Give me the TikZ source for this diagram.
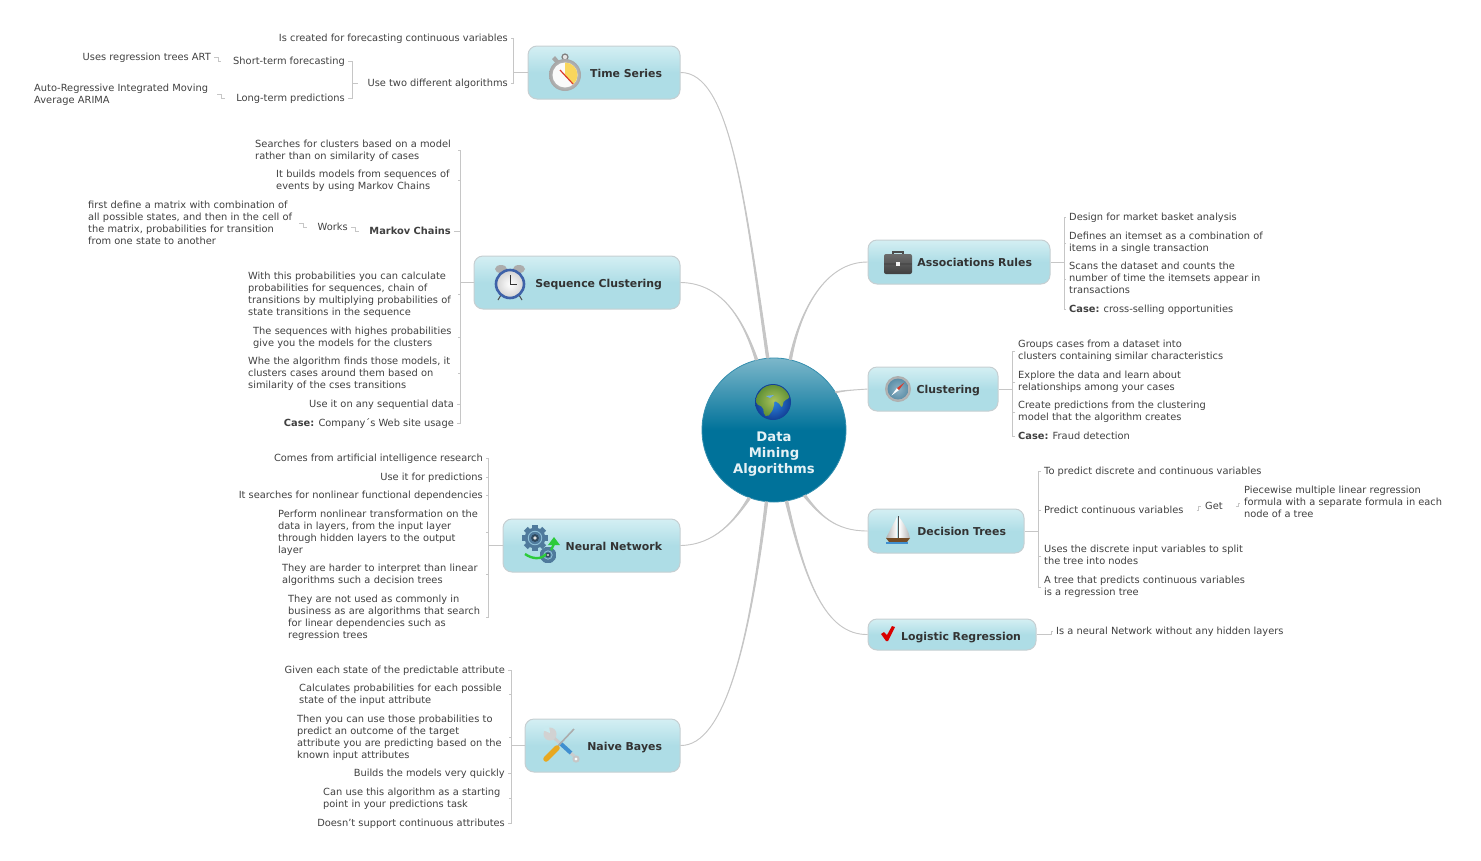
\documentclass[tikz,border=0pt]{standalone}
\usepackage{fontspec}
\setmainfont{DejaVu Sans}
\definecolor{topict}{HTML}{D4EFF3}
\definecolor{topicb}{HTML}{AEDDE6}
\definecolor{boxedge}{HTML}{C6CFD2}
\definecolor{hubt}{HTML}{7CB7CA}
\definecolor{hubd}{HTML}{00729A}
\definecolor{linegray}{HTML}{C6C6C6}
\definecolor{leaftext}{HTML}{404040}
\definecolor{topictext}{HTML}{333333}
\definecolor{gearblue}{HTML}{4F7A9C}
\definecolor{gearlight}{HTML}{8FC0D8}
\definecolor{arrowgreen}{HTML}{2CCB3A}
\definecolor{steelface}{HTML}{5D8FA8}
\definecolor{steellight}{HTML}{8FB4C6}
\definecolor{clockblue}{HTML}{3E62A8}
\definecolor{wedge}{HTML}{F9D65C}
\definecolor{handred}{HTML}{D93A2B}
\definecolor{gripblue}{HTML}{3F8FD0}
\definecolor{handleamber}{HTML}{E8A820}
\definecolor{landlight}{HTML}{A9C25A}
\definecolor{landdark}{HTML}{5E8F35}
\definecolor{oceanlight}{HTML}{2E86DE}
\definecolor{oceandark}{HTML}{123F96}
\pgfdeclareverticalshading{topicshade}{100bp}{color(0bp)=(topicb); color(50bp)=(topicb); color(75bp)=(topict); color(100bp)=(topict)}
\pgfdeclareverticalshading{hubshade}{100bp}{color(0bp)=(hubd); color(50bp)=(hubd); color(75bp)=(hubt); color(100bp)=(hubt)}
\newcommand{\branch}[5]{\draw[branch](#1) .. controls (#2) and (#3) .. (hub.#4) -- (hub.#5) .. controls (#3) and (#2) .. (#1);}
\tikzset{
	topic/.style={rounded corners=9pt,draw=boxedge,line width=1pt,shade,shading=topicshade,text=topictext,
		font=\fontsize{10.9}{13}\selectfont\bfseries,inner xsep=18pt,inner ysep=0pt,align=right,text height=10.5pt,text depth=1pt},
	hubnode/.style={circle,draw=hubd!80!white,line width=.8pt,shade,shading=hubshade,minimum size=144pt,inner sep=0pt,
		text=white!90!hubd,font=\fontsize{13.2}{16}\selectfont\bfseries,align=center},
	leaf/.style={text=leaftext,font=\fontsize{9.85}{12}\selectfont,align=left,inner sep=0pt,yshift=-.6pt,
		execute at begin node=\strut,execute at end node=\strut},
	branch/.style={draw=linegray,fill=linegray,line width=.9pt},
	fork/.style={draw=linegray,line width=.9pt,shorten <=3pt},
	stepline/.style={draw=linegray,line width=.7pt,shorten <=3pt},
	stopwatch/.pic={
		\fill[gray!70](-13,-16)--(-10,-19)--(-5,-13)--(-8,-10)--cycle;
		\draw[gray,fill=gray!20,line width=1.2pt](0,-18)circle(3);
		\shade[inner color=gray!20,outer color=gray!70](0,0)circle(16);
		\fill[white!96!gray](0,0)circle(12.5);
		\fill[wedge](0,0)--(-90:12.5)arc[start angle=-90,end angle=48,radius=12.5]--cycle;
		\draw[handred,line width=1.2pt](-5,-5)--(8,9);
	},
	alarmclock/.pic={
		\fill[gray!65](-9,-15)ellipse(6 and 4);
		\fill[gray!65](9,-15)ellipse(6 and 4);
		\draw[gray!60!black,line width=1pt](-9,11)--(-12,16);
		\draw[gray!60!black,line width=1pt](9,11)--(12,16);
		\shade[inner color=white,outer color=gray!35](0,0)circle(14);
		\draw[clockblue,line width=2.6pt](0,0)circle(14);
		\draw[black!80,line width=1pt](0,-9)--(0,0)--(7,0);
	},
	briefcase/.pic={
		\draw[gray!60!black,line width=1.5pt](-5,-7)--(-5,-10)--(5,-10)--(5,-7);
		\shade[top color=gray!85!black,bottom color=black!75,rounded corners=2pt](-14,-8)rectangle(14,12);
		\fill[black!70](-14,1)rectangle(14,3);
		\fill[white!90!gray](-2,0)rectangle(2,4);
	},
	safari/.pic={
		\shade[inner color=gray!30,outer color=gray!65](0,0)circle(13);
		\shade[inner color=steellight,outer color=steelface](0,0)circle(10.5);
		\fill[handred](-1.2,-.8)--(6.5,-6.5)--(.8,1.2)--cycle;
		\fill[white](-1.2,-.8)--(-6.5,6.5)--(.8,1.2)--cycle;
	},
	sailboat/.pic={
		\shade[left color=gray!60,right color=white](-1,-14)--(-1,7)--(-12,7)--cycle;
		\shade[left color=white,right color=gray!60](1,-14)..controls(7,-6)and(11,1)..(12,7)--(1,7)--cycle;
		\draw[gray!60!black,line width=.8pt](0,-15)--(0,9);
		\fill[brown!60!black](-12,7)--(12,7)--(9,11)--(-9,11)--cycle;
		\fill[gripblue](-12,11)rectangle(10,13);
	},
	checkmark/.pic={
		\fill[red!85!black](-7,0)--(-4,-2)--(-1,1)--(4,-8)--(7,-7)--(0,7)--(-2,7)--cycle;
	},
	gearwheel/.pic={
		\foreach \ang in {0,45,...,315}
			\fill[rotate=\ang,gearblue](-2.8,-#1)rectangle(2.8,-.7*#1);
		\fill[gearblue](0,0)circle(.8*#1);
		\draw[gearlight,line width=.9pt](0,0)circle(.52*#1);
		\fill[gearblue!60!black](0,0)circle(.3*#1);
		\fill[gray!25](0,0)circle(.15*#1);
	},
	gearset/.pic={
		\pic at (-5,-7) {gearwheel=13};
		\pic at (8,10) {gearwheel=8};
		\draw[arrowgreen,line width=2.4pt](-15,9)..controls(-8,14)and(1,15)..(6,9);
		\draw[arrowgreen,line width=2.4pt](11,5)--(14,-1);
		\fill[arrowgreen](8,0)--(20,0)--(14,-8)--cycle;
	},
	toolset/.pic={
		\draw[gray!40,line width=3pt](-10,-10)--(12,10);
		\draw[gray!45,fill=white,line width=2pt](14,13)circle(2.6);
		\fill[gray!35](-12,-12)circle(6.5);
		\fill[topict!70!topicb](-19,-16)--(-12,-13)--(-13,-20)--(-16,-20)--cycle;
		\draw[gripblue,line width=4pt](-2,-3)--(9,7);
		\draw[gray!65,line width=1.6pt](-4,0)--(12,-17);
		\draw[handleamber,line width=5.5pt,line cap=round](-16,13)--(-5,2);
	},
	earth/.pic={
		\shade[inner color=oceanlight,outer color=oceandark](0,0)circle(18);
		\begin{scope}
			\clip(0,0)circle(17);
			\shade[inner color=landlight,outer color=landdark,rounded corners=2pt](-17,-5)--(-8,-17)--(8,-18)--(18,-10)--(16,-3)--(11,-2)--(9,6)--(5,0)--(1,-1)--(1,5)--(-2,11)--(-6,15)--(-9,13)--(-10,5)--(-17,2)--cycle;
			\fill[oceanlight!70!white](-7,-6)--(1,-7)--(-3,-4)--cycle;
		\end{scope}
	}
}
\begin{document}
\begin{tikzpicture}[x=1pt,y=-1pt]
	\useasboundingbox(0,0)rectangle(1481,860);
	\node[hubnode](hub)at(774,430){\rule{0pt}{42pt}\\Data\\Mining\\Algorithms};
	\pic at(773,402){earth};

	\node[topic,text width=116pt,minimum height=53pt](timeseries)at(604,72.5){Time Series};
	\node[topic,text width=170pt,minimum height=53pt](sequence)at(577,282.5){Sequence Clustering};
	\node[topic,text width=141pt,minimum height=53pt](neural)at(591.5,545.5){Neural Network};
	\node[topic,text width=119pt,minimum height=53pt](naive)at(602.5,745.5){Naive Bayes};
	\node[topic,text width=146pt,minimum height=44pt](assoc)at(959,262){Associations Rules};
	\node[topic,text width=94pt,minimum height=44pt](cluster)at(933,389){Clustering};
	\node[topic,text width=120pt,minimum height=44pt](decision)at(946,531){Decision Trees};
	\node[topic,text width=138pt,minimum height=31pt,inner xsep=15pt,text height=12pt](logistic)at(952,634.5){Logistic Regression};
	\pic at(565,75){stopwatch};
	\pic at(510,284){alarmclock};
	\pic at(540,545){gearset};
	\pic at(562,746){toolset};
	\pic at(898,262){briefcase};
	\pic at(898,389){safari};
	\pic at(898,531){sailboat};
	\pic at(888,634){checkmark};

	\branch{timeseries.east}{730,72}{745,200}{94}{96}
	\branch{sequence.east}{725,283}{745,325}{103}{105}
	\branch{neural.east}{715,545}{735,520}{249}{251}
	\branch{naive.east}{725,746}{750,640}{263}{265}
	\branch{assoc.west}{825,262}{800,310}{76}{78}
	\branch{cluster.west}{855,390}{848,390}{31}{32}
	\branch{decision.west}{835,531}{820,515}{294}{296}
	\branch{logistic.west}{825,635}{805,580}{279}{281}

	\node[leaf,anchor=east](tsa)at(508,38){Is created for forecasting continuous variables};
	\node[leaf,anchor=east](tsb)at(508,83){Use two different algorithms};
	\node[leaf,anchor=east](tsc)at(345,61){Short-term forecasting};
	\node[leaf,anchor=east](tsd)at(345,98){Long-term predictions};
	\node[leaf,anchor=east](tse)at(211,57){Uses regression trees ART};
	\node[leaf,anchor=west,text width=180pt](tsf)at(34,94){Auto-Regressive Integrated Moving\\Average ARIMA};
	\draw[fork](tsa.east)-|([xshift=-14pt]timeseries.west)--(timeseries.west);
	\draw[fork](tsb.east)-|([xshift=-14pt]timeseries.west)--(timeseries.west);
	\draw[fork,shorten >=9pt](tsc.east)-|([xshift=-15pt]tsb.west)--(tsb.west);
	\draw[fork,shorten >=9pt](tsd.east)-|([xshift=-15pt]tsb.west)--(tsb.west);
	\draw[stepline](tse.east)--++(7pt,0)|-([xshift=-12pt]tsc.west);
	\draw[stepline](tsf.east)--++(7pt,0)|-([xshift=-11pt]tsd.west);

	\node[leaf,anchor=west,text width=200pt](sqa)at(255,150){Searches for clusters based on a model\\rather than on similarity of cases};
	\node[leaf,anchor=west,text width=179pt](sqb)at(276,180){It builds models from sequences of\\events by using Markov Chains};
	\node[leaf,anchor=east,font=\fontsize{9.85}{12}\selectfont\bfseries](sqc)at(451,231){Markov Chains};
	\node[leaf,anchor=east](sqd)at(348,227){Works};
	\node[leaf,anchor=west,text width=208pt](sqe)at(88,223){first define a matrix with combination of\\all possible states, and then in the cell of\\the matrix, probabilities for transition\\from one state to another};
	\node[leaf,anchor=west,text width=207pt](sqf)at(248,294){With this probabilities you can calculate\\probabilities for sequences, chain of\\transitions by multiplying probabilities of\\state transitions in the sequence};
	\node[leaf,anchor=west,text width=202pt](sqg)at(253,337){The sequences with highes probabilities\\give you the models for the clusters};
	\node[leaf,anchor=west,text width=207pt](sqh)at(248,373){Whe the algorithm finds those models, it\\clusters cases around them based on\\similarity of the cses transitions};
	\node[leaf,anchor=east](sqi)at(454,404){Use it on any sequential data};
	\node[leaf,anchor=east](sqj)at(454,423){\textbf{Case:} Company´s Web site usage};
	\draw[fork](sqa.east)-|([xshift=-13pt]sequence.west)--(sequence.west);
	\draw[fork](sqb.east)-|([xshift=-13pt]sequence.west)--(sequence.west);
	\draw[fork](sqc.east)-|([xshift=-13pt]sequence.west)--(sequence.west);
	\draw[fork](sqf.east)-|([xshift=-13pt]sequence.west)--(sequence.west);
	\draw[fork](sqg.east)-|([xshift=-13pt]sequence.west)--(sequence.west);
	\draw[fork](sqh.east)-|([xshift=-13pt]sequence.west)--(sequence.west);
	\draw[fork](sqi.east)-|([xshift=-13pt]sequence.west)--(sequence.west);
	\draw[fork](sqj.east)-|([xshift=-13pt]sequence.west)--(sequence.west);
	\draw[stepline](sqd.east)--++(7pt,0)|-([xshift=-10pt]sqc.west);
	\draw[stepline](sqe.east)--++(7pt,0)|-([xshift=-11pt]sqd.west);

	\node[leaf,anchor=east](nna)at(483,458){Comes from artificial intelligence research};
	\node[leaf,anchor=east](nnb)at(483,477){Use it for predictions};
	\node[leaf,anchor=east](nnc)at(483,495){It searches for nonlinear functional dependencies};
	\node[leaf,anchor=west,text width=205pt](nnd)at(278,532){Perform nonlinear transformation on the\\data in layers, from the input layer\\through hidden layers to the output\\layer};
	\node[leaf,anchor=west,text width=201pt](nne)at(282,574){They are harder to interpret than linear\\algorithms such a decision trees};
	\node[leaf,anchor=west,text width=195pt](nnf)at(288,617){They are not used as commonly in\\business as are algorithms that search\\for linear dependencies such as\\regression trees};
	\draw[fork](nna.east)-|([xshift=-14pt]neural.west)--(neural.west);
	\draw[fork](nnb.east)-|([xshift=-14pt]neural.west)--(neural.west);
	\draw[fork](nnc.east)-|([xshift=-14pt]neural.west)--(neural.west);
	\draw[fork](nnd.east)-|([xshift=-14pt]neural.west)--(neural.west);
	\draw[fork](nne.east)-|([xshift=-14pt]neural.west)--(neural.west);
	\draw[fork](nnf.east)-|([xshift=-14pt]neural.west)--(neural.west);

	\node[leaf,anchor=east](nba)at(505,670){Given each state of the predictable attribute};
	\node[leaf,anchor=west,text width=207pt](nbb)at(299,694){Calculates probabilities for each possible\\state of the input attribute};
	\node[leaf,anchor=west,text width=209pt](nbc)at(297,737){Then you can use those probabilities to\\predict an outcome of the target\\attribute you are predicting based on the\\known input attributes};
	\node[leaf,anchor=east](nbd)at(505,773){Builds the models very quickly};
	\node[leaf,anchor=west,text width=183pt](nbe)at(323,798){Can use this algorithm as a starting\\point in your predictions task};
	\node[leaf,anchor=east](nbf)at(505,823){Doesn't support continuous attributes};
	\draw[fork](nba.east)-|([xshift=-13pt]naive.west)--(naive.west);
	\draw[fork](nbb.east)-|([xshift=-13pt]naive.west)--(naive.west);
	\draw[fork](nbc.east)-|([xshift=-13pt]naive.west)--(naive.west);
	\draw[fork](nbd.east)-|([xshift=-13pt]naive.west)--(naive.west);
	\draw[fork](nbe.east)-|([xshift=-13pt]naive.west)--(naive.west);
	\draw[fork](nbf.east)-|([xshift=-13pt]naive.west)--(naive.west);

	\node[leaf,anchor=west](ara)at(1069,217){Design for market basket analysis};
	\node[leaf,anchor=west](arb)at(1069,243){Defines an itemset as a combination of\\items in a single transaction};
	\node[leaf,anchor=west](arc)at(1069,279){Scans the dataset and counts the\\number of time the itemsets appear in\\transactions};
	\node[leaf,anchor=west](ard)at(1069,309){\textbf{Case:} cross-selling opportunities};
	\draw[fork](ara.west)-|([xshift=14pt]assoc.east)--(assoc.east);
	\draw[fork](arb.west)-|([xshift=14pt]assoc.east)--(assoc.east);
	\draw[fork](arc.west)-|([xshift=14pt]assoc.east)--(assoc.east);
	\draw[fork](ard.west)-|([xshift=14pt]assoc.east)--(assoc.east);

	\node[leaf,anchor=west](cla)at(1018,351){Groups cases from a dataset into\\clusters containing similar characteristics};
	\node[leaf,anchor=west](clb)at(1018,382){Explore the data and learn about\\relationships among your cases};
	\node[leaf,anchor=west](clc)at(1018,412){Create predictions from the clustering\\model that the algorithm creates};
	\node[leaf,anchor=west](cld)at(1018,436){\textbf{Case:} Fraud detection};
	\draw[fork](cla.west)-|([xshift=14pt]cluster.east)--(cluster.east);
	\draw[fork](clb.west)-|([xshift=14pt]cluster.east)--(cluster.east);
	\draw[fork](clc.west)-|([xshift=14pt]cluster.east)--(cluster.east);
	\draw[fork](cld.west)-|([xshift=14pt]cluster.east)--(cluster.east);

	\node[leaf,anchor=west](dta)at(1044,471){To predict discrete and continuous variables};
	\node[leaf,anchor=west](dtb)at(1044,510){Predict continuous variables};
	\node[leaf,anchor=west](dtc)at(1044,556){Uses the discrete input variables to split\\the tree into nodes};
	\node[leaf,anchor=west](dtd)at(1044,587){A tree that predicts continuous variables\\is a regression tree};
	\node[leaf,anchor=west](dte)at(1205,506){Get};
	\node[leaf,anchor=west](dtf)at(1244,503){Piecewise multiple linear regression\\formula with a separate formula in each\\node of a tree};
	\draw[fork](dta.west)-|([xshift=14pt]decision.east)--(decision.east);
	\draw[fork](dtb.west)-|([xshift=14pt]decision.east)--(decision.east);
	\draw[fork](dtc.west)-|([xshift=14pt]decision.east)--(decision.east);
	\draw[fork](dtd.west)-|([xshift=14pt]decision.east)--(decision.east);
	\draw[stepline,shorten <=13pt](dtb.east)--++(15pt,0)|-([xshift=-4pt]dte.west);
	\draw[stepline,shorten <=13pt](dte.east)--++(15pt,0)|-([xshift=-4pt]dtf.west);

	\node[leaf,anchor=west](lra)at(1056,631){Is a neural Network without any hidden layers};
	\draw[stepline,shorten <=0pt](logistic.east)--++(15pt,0)|-([xshift=-3pt]lra.west);
\end{tikzpicture}
\end{document}
